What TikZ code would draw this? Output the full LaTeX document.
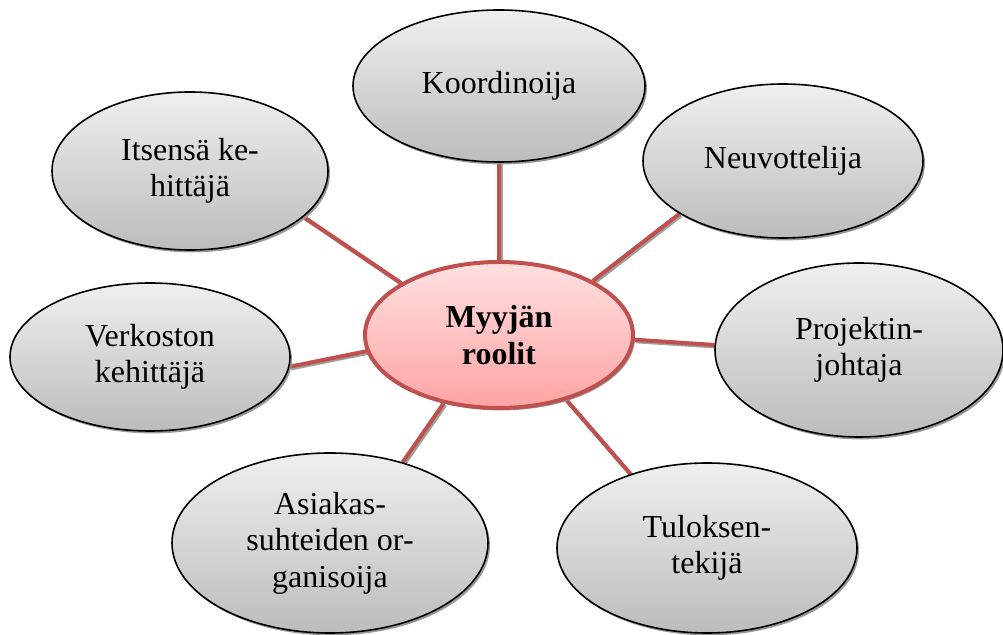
\documentclass[tikz,border=0pt]{standalone}
\usepackage{fontspec}
\setmainfont{Liberation Serif}
\usetikzlibrary{shapes.geometric,shadows,backgrounds}
\definecolor{punainen}{HTML}{C0504D}
\definecolor{harmaa1}{HTML}{EFEFEF}
\definecolor{harmaa2}{HTML}{BCBCBC}
\definecolor{rosa1}{HTML}{FFE0E0}
\definecolor{rosa2}{HTML}{FFA3A3}

\begin{document}
\begin{tikzpicture}[x=0.5pt, y=-0.5pt,
    rooli/.style={ellipse, draw=black, line width=0.8pt, top color=harmaa1, bottom color=harmaa2,
        inner sep=0pt, align=center, font=\fontsize{16}{18.3}\selectfont,
        drop shadow={shadow xshift=1pt, shadow yshift=-1.2pt, fill=gray!80, opacity=1}},
    keski/.style={ellipse, draw=punainen, line width=2pt, top color=rosa1, bottom color=rosa2,
        inner sep=0pt, align=center, font=\fontsize{16}{18.3}\selectfont\bfseries,
        drop shadow={shadow xshift=1pt, shadow yshift=-1.2pt, fill=gray!80, opacity=1}},
    yhteys/.style={draw=punainen, line width=2pt},
    varjo/.style={draw=gray!75, line width=2pt, transform canvas={xshift=0.8pt, yshift=-0.8pt}}]
    \useasboundingbox (0,0) rectangle (1003,635);
    % roolit
    \node[keski, minimum width=134pt, minimum height=73pt] (M) at (499,335) {Myyjän\\roolit};
    \node[rooli, minimum width=146pt, minimum height=76pt] (K) at (499,86) {Koordinoija};
    \node[rooli, minimum width=140pt, minimum height=77pt] (N) at (783,161) {Neuvottelija};
    \node[rooli, minimum width=144pt, minimum height=87pt] (P) at (859,350) {Projektin-\\johtaja};
    \node[rooli, minimum width=150pt, minimum height=85pt] (T) at (707,548) {Tuloksen-\\tekijä};
    \node[rooli, minimum width=158pt, minimum height=90pt] (A) at (330,543) {Asiakas-\\suhteiden or-\\ganisoija};
    \node[rooli, minimum width=140pt, minimum height=74pt] (V) at (150,357) {Verkoston\\kehittäjä};
    \node[rooli, minimum width=138pt, minimum height=79pt] (I) at (190,171) {Itsensä ke-\\hittäjä};
    % yhteydet
    \begin{scope}[on background layer]
    \foreach \a/\b/\c/\d in {M/90/K/270, M/30/N/207, M/-2/P/178, M/-44/T/136,
        M/231/A/48, M/187/V/-4, M/152/I/-22} {
        \draw[varjo] (\a.\b) -- (\c.\d);
        \draw[yhteys] (\a.\b) -- (\c.\d);
    }
    \end{scope}
\end{tikzpicture}
\end{document}
